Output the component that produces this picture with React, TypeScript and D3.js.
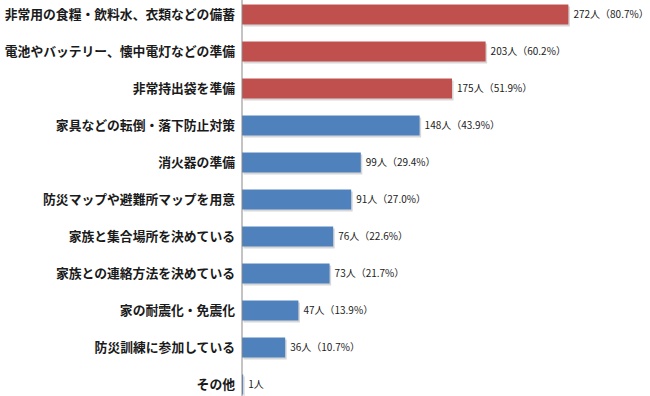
import React from 'react';
import * as d3 from 'd3';

// categories, top to bottom
const categories = [
  '非常用の食糧・飲料水、衣類などの備蓄',
  '電池やバッテリー、懐中電灯などの準備',
  '非常持出袋を準備',
  '家具などの転倒・落下防止対策',
  '消火器の準備',
  '防災マップや避難所マップを用意',
  '家族と集合場所を決めている',
  '家族との連絡方法を決めている',
  '家の耐震化・免震化',
  '防災訓練に参加している',
  'その他',
];
const counts = [272, 203, 175, 148, 99, 91, 76, 73, 47, 36, 1];
const percents = ['80.7', '60.2', '51.9', '43.9', '29.4', '27.0', '22.6', '21.7', '13.9', '10.7', ''];
const highlighted = [true, true, true, false, false, false, false, false, false, false, false];

const width = 650;
const height = 396;
const axisX = 242;

function App() {
  const x = d3.scaleLinear().domain([0, 300]).range([axisX, axisX + 360]);
  const y = d3.scaleBand<string>()
    .domain(categories)
    .range([-4, 403])
    .paddingInner(0.46)
    .paddingOuter(0.23);

  const font = "'Noto Sans CJK JP', 'Noto Sans', sans-serif";

  return (
    <svg width={width} height={height} style={{ position: 'absolute', left: 0, top: 0, background: '#fff' }}>
      {categories.map((c, i) => {
        const y0 = y(c) as number;
        const bw = y.bandwidth();
        const w = x(counts[i]) - x(0);
        const label = percents[i] ? `${counts[i]}人（${percents[i]}%）` : `${counts[i]}人`;
        return (
          <g key={c}>
            {/* drop shadow */}
            <rect x={x(0) + 1.5} y={y0 + 2} width={w} height={bw} fill="#bcbcbc" opacity={0.6} />
            <rect x={x(0)} y={y0} width={w} height={bw} fill={highlighted[i] ? '#C0504D' : '#4F81BD'} />
            <text
              x={axisX - 7}
              y={y0 + bw / 2}
              dy="0.36em"
              textAnchor="end"
              fontFamily={font}
              fontSize={12.8}
              fontWeight="bold"
              fill="#1a1a1a"
            >
              {c}
            </text>
            <text
              x={x(counts[i]) + 5}
              y={y0 + bw / 2}
              dy="0.36em"
              fontFamily={font}
              fontSize={10}
              fill="#222"
            >
              {label}
            </text>
          </g>
        );
      })}
      <line x1={axisX} x2={axisX} y1={0} y2={height} stroke="#888" strokeWidth={1} />
    </svg>
  );
}

export default App;
